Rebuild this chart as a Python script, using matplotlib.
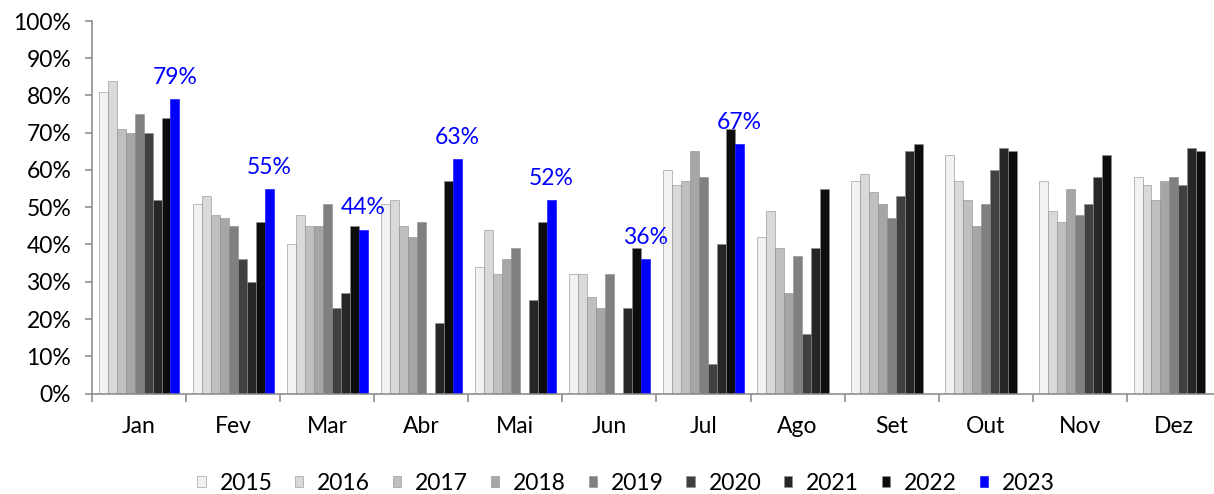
import numpy as np
import matplotlib.pyplot as plt

plt.rcParams['font.family'] = ['Lato', 'DejaVu Sans']

months = ["Jan", "Fev", "Mar", "Abr", "Mai", "Jun", "Jul", "Ago", "Set", "Out", "Nov", "Dez"]
years = ["2015", "2016", "2017", "2018", "2019", "2020", "2021", "2022", "2023"]

nan = np.nan
y2015 = [81, 51, 40, 51, 34, 32, 60, 42, 57, 64, 57, 58]
y2016 = [84, 53, 48, 52, 44, 32, 56, 49, 59, 57, 49, 56]
y2017 = [71, 48, 45, 45, 32, 26, 57, 39, 54, 52, 46, 52]
y2018 = [70, 47, 45, 42, 36, 23, 65, 27, 51, 45, 55, 57]
y2019 = [75, 45, 51, 46, 39, 32, 58, 37, 47, 51, 48, 58]
y2020 = [70, 36, 23, nan, nan, nan, 8, 16, 53, 60, 51, 56]
y2021 = [52, 30, 27, 19, 25, 23, 40, 39, 65, 66, 58, 66]
y2022 = [74, 46, 45, 57, 46, 39, 71, 55, 67, 65, 64, 65]
y2023 = [79, 55, 44, 63, 52, 36, 67, nan, nan, nan, nan, nan]

series = [y2015, y2016, y2017, y2018, y2019, y2020, y2021, y2022, y2023]
colors = ["#f2f2f2", "#d9d9d9", "#bfbfbf", "#a6a6a6", "#808080",
          "#404040", "#262626", "#0d0d0d", "#0000ff"]

FS = 16.5

fig = plt.figure(figsize=(12.14, 4.94), dpi=100)
ax = fig.add_axes([92 / 1214, 100.5 / 494, 1129 / 1214, 372.5 / 494])

x = np.arange(len(months))
w = 0.0955
n = len(series)
for i in range(n):
    vals = np.array(series[i], dtype=float)
    pos = x + (i - (n - 1) / 2) * w
    edge = "#0000ff" if i == n - 1 else "#8c8c8c"
    ax.bar(pos, vals, w, color=colors[i], edgecolor=edge, linewidth=0.4, label=years[i])

# labels on the 2023 bars
pos23 = x + (n - 1 - (n - 1) / 2) * w
for px, v in zip(pos23, y2023):
    if not np.isnan(v):
        ax.annotate(f"{v:.0f}%", (px, v), xytext=(0, 8), textcoords="offset points",
                    ha="center", va="bottom", color="#0000ff", fontsize=FS)

ax.set_xlim(-0.5, len(months) - 0.5)
ax.set_ylim(0, 100)
ax.set_yticks(np.arange(0, 101, 10))
ax.set_yticklabels([f"{t}%" for t in range(0, 101, 10)])
ax.set_xticks(x)
ax.set_xticklabels(months)
ax.set_xticks(np.arange(-0.5, len(months), 1), minor=True)

ax.tick_params(axis="x", which="major", length=0, pad=16, labelsize=FS)
ax.tick_params(axis="x", which="minor", length=6, width=1.1, color="#868686")
ax.tick_params(axis="y", length=5, width=1.1, color="#868686", pad=10, labelsize=FS)

for s in ["top", "right"]:
    ax.spines[s].set_visible(False)
for s in ["left", "bottom"]:
    ax.spines[s].set_color("#868686")
    ax.spines[s].set_linewidth(1.1)

fig.legend(loc="center", bbox_to_anchor=(626 / 1214, 11 / 494), ncol=9, frameon=False,
           fontsize=FS, handlelength=0.36, handleheight=0.36, handletextpad=0.6,
           columnspacing=1.0)

plt.savefig("out.png", dpi=100)
